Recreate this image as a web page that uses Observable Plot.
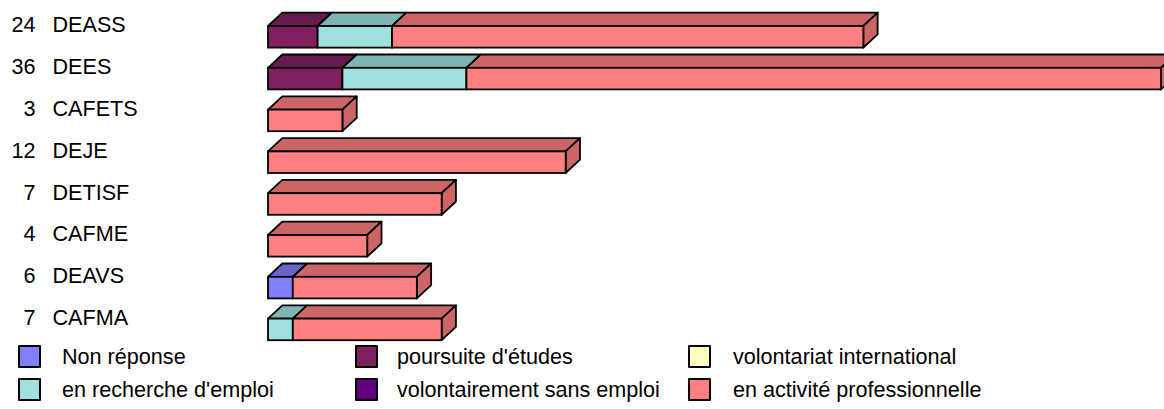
<!DOCTYPE html>
<html>
<head>
<meta charset="utf-8">
<script src="https://cdn.jsdelivr.net/npm/d3@7"></script>
<script src="https://cdn.jsdelivr.net/npm/@observablehq/plot@0.6"></script>
<style>
  html, body { margin: 0; padding: 0; background: #fff; overflow: hidden; }
  body { width: 1164px; height: 409px; font-family: "Liberation Sans", Arial, sans-serif; }
  #legend { position: relative; width: 1164px; height: 67px; font-size: 21.6px; color: #000; }
  .sw { position: absolute; width: 23px; height: 23px; border: 2px solid #000; border-radius: 1px; box-sizing: border-box; }
  .lbl { position: absolute; line-height: 26px; white-space: nowrap; }
</style>
</head>
<body>
<div id="chart"></div>
<div id="legend"></div>
<script>
// ---- data ----
const categories = ["DEASS", "DEES", "CAFETS", "DEJE", "DETISF", "CAFME", "DEAVS", "CAFMA"];
const totals = [24, 36, 3, 12, 7, 4, 6, 7];
const seriesNames = ["Non réponse", "poursuite d'études", "volontariat international",
                     "en recherche d'emploi", "volontairement sans emploi", "en activité professionnelle"];
const nonReponse   = [0, 0, 0, 0, 0, 0, 1, 0];
const poursuite    = [2, 3, 0, 0, 0, 0, 0, 0];
const volontariat  = [0, 0, 0, 0, 0, 0, 0, 0];
const recherche    = [3, 5, 0, 0, 0, 0, 0, 1];
const sansEmploi   = [0, 0, 0, 0, 0, 0, 0, 0];
const activite     = [19, 28, 3, 12, 7, 4, 5, 6];
const seriesValues = [nonReponse, poursuite, volontariat, recherche, sansEmploi, activite];

// ---- styles ----
const frontColors = ["#8080ff", "#802060", "#ffffc0", "#a0e0e0", "#600080", "#ff8080"];
const topColors   = frontColors.map(c => { const k = d3.rgb(c); return d3.rgb(k.r * 0.8, k.g * 0.8, k.b * 0.8).formatHex(); });

// ---- layout constants ----
const X0 = 268, X1 = 1161, XMAX = 36;
const ROWPX = 41.8, Y0 = 26;
const kx = (X1 - X0) / XMAX;
const depthX = 14.3 / kx;
const depthY = 13.3 / ROWPX;
const frontH = 21.6 / ROWPX;
const FS = 21.6;

// ---- build stacked segments ----
const segs = [];
categories.forEach((c, i) => {
  let acc = 0;
  seriesValues.forEach((vals, s) => {
    const v = vals[i];
    if (v > 0) { segs.push({row: i, s, x0: acc, x1: acc + v}); acc += v; }
  });
});
const topPts = [];
segs.forEach((d, k) => {
  topPts.push({id: k, y: d.row, a: d.x0, b: d.x1, fill: topColors[d.s]});
  topPts.push({id: k, y: d.row - depthY, a: d.x0 + depthX, b: d.x1 + depthX, fill: topColors[d.s]});
});
// side face on the last segment of each bar
const sidePts = [];
categories.forEach((c, i) => {
  const rowSegs = segs.filter(d => d.row === i);
  const last = rowSegs[rowSegs.length - 1];
  sidePts.push({id: i, x: last.x1, y1: i, y2: i + frontH, fill: topColors[last.s]});
  sidePts.push({id: i, x: last.x1 + depthX, y1: i - depthY, y2: i + frontH - depthY, fill: topColors[last.s]});
});
const rows = categories.map((c, i) => ({row: i, name: c, total: totals[i]}));

const SW = 1.8;
const chart = Plot.plot({
  width: 1164,
  height: 342,
  marginLeft: X0,
  marginRight: 1164 - X1,
  marginTop: 0,
  marginBottom: 0,
  style: {fontFamily: "'Liberation Sans', Arial, sans-serif", background: "#fff", overflow: "visible"},
  x: {domain: [0, XMAX], range: [X0, X1], axis: null},
  y: {domain: [0, categories.length], range: [Y0, Y0 + categories.length * ROWPX], axis: null},
  color: {type: "identity"},
  marks: [
    Plot.areaX(topPts, {x1: "a", x2: "b", y: "y", z: "id", fill: "fill", stroke: "black", strokeWidth: SW, strokeLinejoin: "round"}),
    Plot.areaY(sidePts, {x: "x", y1: "y1", y2: "y2", z: "id", fill: "fill", stroke: "black", strokeWidth: SW, strokeLinejoin: "round"}),
    Plot.rect(segs, {x1: "x0", x2: "x1", y1: "row", y2: d => d.row + frontH, fill: d => frontColors[d.s], stroke: "black", strokeWidth: SW}),
    Plot.text(rows, {y: "row", text: d => String(d.total), frameAnchor: "left", dx: 35 - X0, dy: -1, textAnchor: "end", fontSize: FS, fill: "black"}),
    Plot.text(rows, {y: "row", text: "name", frameAnchor: "left", dx: 52 - X0, dy: -1, textAnchor: "start", fontSize: FS, fill: "black"})
  ]
});
document.getElementById("chart").appendChild(chart);

// ---- legend (row-major, 3 columns) ----
const legend = document.getElementById("legend");
const colX = [18, 355, 688], textX = [62, 397, 733], rowY = [2, 35];
seriesNames.forEach((name, k) => {
  const col = k % 3, r = Math.floor(k / 3);
  const sw = document.createElement("div");
  sw.className = "sw";
  sw.style.left = colX[col] + "px";
  sw.style.top = (rowY[r] + 1) + "px";
  sw.style.background = frontColors[k];
  legend.appendChild(sw);
  const lb = document.createElement("div");
  lb.className = "lbl";
  lb.style.left = textX[col] + "px";
  lb.style.top = rowY[r] + "px";
  lb.textContent = name;
  legend.appendChild(lb);
});
</script>
</body>
</html>
